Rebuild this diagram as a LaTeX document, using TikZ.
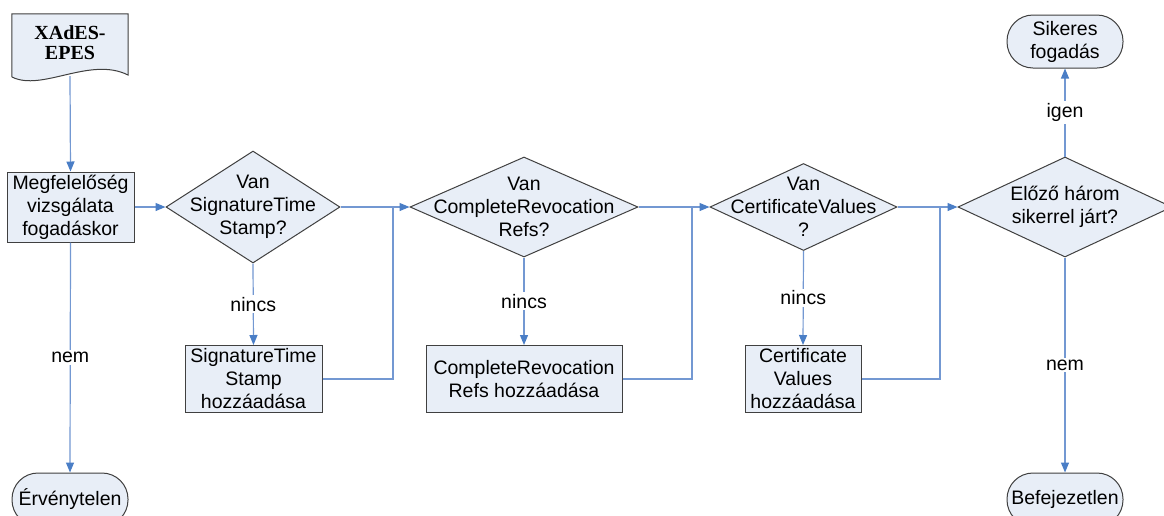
\documentclass[tikz,border=0pt]{standalone}
\usepackage{fontspec}
\setmainfont{Liberation Sans}
\newfontfamily\titlefont{Liberation Serif}
\usetikzlibrary{shapes.geometric,arrows.meta}

\definecolor{shapefill}{HTML}{E8EEF7}
\definecolor{shapeline}{HTML}{404040}
\definecolor{flowline}{HTML}{7398D2}
\definecolor{flowhead}{HTML}{4A7EC6}

\tikzset{
  x=1pt, y=-1pt,
  every node/.style={font=\fontsize{19.5}{23}\selectfont},
  base/.style={draw=shapeline, fill=shapefill, line width=1pt, inner sep=0pt, align=center},
  procbox/.style={base, rectangle, minimum height=67},
  decision/.style={base, diamond},
  terminal/.style={base, rectangle, rounded corners=26pt, minimum width=116, minimum height=53},
  txt/.style={align=center, inner sep=0pt},
  wire/.style={draw=flowline, line width=1.2pt},
  flow/.style={wire, -{Triangle[length=10pt,width=8pt,color=flowhead]}},
  lbl/.style={fill=white, inner sep=2pt}
}

\begin{document}
\begin{tikzpicture}
\clip (0,0) rectangle (1164,515);
\fill[white] (0,0) rectangle (1164,515);

% input document: wavy-bottom outline around an anchor frame
\node[inner sep=0pt, minimum width=116, minimum height=62] (doc) at (70,45) {};
\draw[draw=shapeline, fill=shapefill, line width=1pt]
  (doc.north west) -- (doc.north east) -- (128,75)
  .. controls (90,56) and (42,92) .. (12,77) -- cycle;
\node[txt, font=\fontsize{20}{20}\titlefont\bfseries] (doctitle) at (70,42.5) {XAdES-\\EPES};

% process steps
\node[procbox, minimum width=127, minimum height=70] (p0) at (70.5,207) {Megfelelőség\\vizsgálata\\fogadáskor};
\node[procbox, minimum width=137] (p1) at (253.5,379) {SignatureTime\\Stamp\\hozzáadása};
\node[procbox, minimum width=196] (p2) at (524,379) {CompleteRevocation\\Refs hozzáadása};
\node[procbox, minimum width=116] (p3) at (803,379) {Certificate\\Values\\hozzáadása};

% decisions
\node[decision, minimum width=174, minimum height=112] (d1) at (253,207) {};
\node[txt] (d1t) at (d1.center) {Van\\SignatureTime\\Stamp?};
\node[decision, minimum width=228, minimum height=100] (d2) at (524,207) {};
\node[txt] (d2t) at (d2.center) {Van\\CompleteRevocation\\Refs?};
\node[decision, minimum width=187, minimum height=87] (d3) at (803.5,207) {};
\node[txt] (d3t) at (d3.center) {Van\\CertificateValues\\?};
\node[decision, minimum width=214, minimum height=100] (d4) at (1065,207) {};
\node[txt] (d4t) at (d4.center) {Előző három\\sikerrel járt?};

% terminals
\node[terminal] (ok) at (1065,41.5) {Sikeres\\fogadás};
\node[terminal] (bad) at (1065,499.5) {Befejezetlen};
\node[terminal] (inv) at (70,499.5) {Érvénytelen};

% junction points of the bypass lines
\coordinate (j1) at (393,207);
\coordinate (j2) at (692,207);
\coordinate (j3) at (940,207);

% connectors
\draw[flow] (doc.south) -- (p0.north);
\draw[flow] (p0.east) -- (d1.west);
\draw[flow] (p0.south) -- node[lbl] {nem} (inv.north);

\draw[flow] (d1.south) -- node[lbl] {nincs} (p1.north);
\draw[wire] (p1.east) -| (j1);
\draw[flow] (d1.east) -- (d2.west);

\draw[flow] (d2.south) -- node[lbl] {nincs} (p2.north);
\draw[wire] (p2.east) -| (j2);
\draw[flow] (d2.east) -- (d3.west);

\draw[flow] (d3.south) -- node[lbl] {nincs} (p3.north);
\draw[wire] (p3.east) -| (j3);
\draw[flow] (d3.east) -- (d4.west);

\draw[flow] (d4.north) -- node[lbl] {igen} (ok.south);
\draw[flow] (d4.south) -- node[lbl] {nem} (bad.north);
\end{tikzpicture}
\end{document}
